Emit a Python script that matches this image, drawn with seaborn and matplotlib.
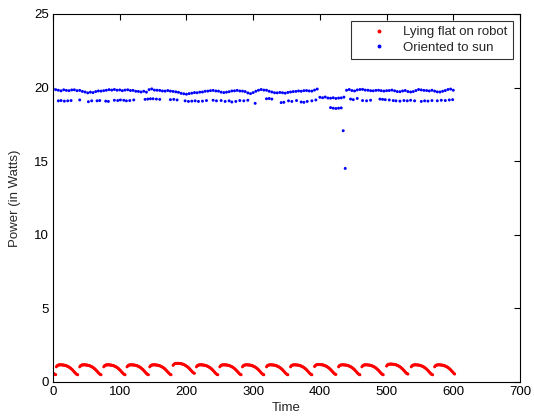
import numpy as np
import pandas as pd
import matplotlib
matplotlib.use("Agg")
import matplotlib.pyplot as plt
import seaborn as sns

# ---- Panel lying flat on the robot: daily-like arcs --------------------
flat_lead_times = [0, 1, 2, 3, 4]
flat_lead_values = [0.60, 0.57, 0.54, 0.51, 0.50]
flat_cycle_profile = [1.03, 1.09, 1.13, 1.15, 1.16, 1.16, 1.17, 1.17, 1.16, 1.16,
                      1.15, 1.15, 1.14, 1.13, 1.12, 1.10, 1.08, 1.06, 1.04, 1.01,
                      0.98, 0.95, 0.91, 0.87, 0.83, 0.78, 0.73, 0.68, 0.63, 0.58,
                      0.54, 0.51, 0.49]
flat_cycle_starts = [5, 40, 76, 111, 145, 180, 215, 250, 284, 320, 356, 392,
                     428, 463, 500, 537, 572]
flat_cycle_lift = [0.0, 0.0, 0.0, 0.0, 0.0, 0.10, 0.0, 0.0, 0.0, 0.0, 0.0, 0.02,
                   0.0, 0.0, 0.05, 0.0, 0.0]
flat_last_time = 602

# ---- Panel oriented to the sun ------------------------------------------
sun_upper_step = 4
sun_upper_values = [
    19.92, 19.86, 19.82, 19.78, 19.85, 19.81, 19.79, 19.84, 19.85, 19.79,
    19.81, 19.74, 19.70, 19.64, 19.69, 19.66, 19.73, 19.77, 19.76, 19.79,
    19.82, 19.86, 19.83, 19.87, 19.82, 19.84, 19.79, 19.83, 19.85, 19.80,
    19.81, 19.75, 19.74, 19.70, 19.75, 19.69, 19.86, 19.91, 19.83, 19.82,
    19.81, 19.77, 19.76, 19.80, 19.76, 19.74, 19.71, 19.68, 19.61, 19.58,
    19.55, 19.59, 19.62, 19.66, 19.65, 19.69, 19.70, 19.75, 19.76, 19.79,
    19.81, 19.77, 19.76, 19.69, 19.66, 19.69, 19.72, 19.77, 19.78, 19.81,
    19.77, 19.76, 19.73, 19.64, 19.59, 19.66, 19.75, 19.82, 19.87, 19.83,
    19.82, 19.75, 19.70, 19.65, 19.64, 19.67, 19.65, 19.62, 19.67, 19.70,
    19.73, 19.74, 19.77, 19.75, 19.79, 19.80, 19.77, 19.76, 19.83, 19.90,
    19.34, 19.31, 19.36, 19.29, 19.28, 19.31, 19.26, 19.29, 19.30, 19.35,
    19.82, 19.87, 19.80, 19.77, 19.84, 19.87, 19.88, 19.83, 19.82, 19.79,
    19.78, 19.81, 19.82, 19.79, 19.76, 19.79, 19.80, 19.83, 19.78, 19.73,
    19.72, 19.77, 19.80, 19.73, 19.70, 19.73, 19.80, 19.87, 19.84, 19.81,
    19.80, 19.77, 19.82, 19.76, 19.71, 19.70, 19.75, 19.80, 19.87, 19.90,
    19.82,
]
sun_lower_times = [
    8, 12, 17, 22, 27, 40, 53, 58, 66, 70, 79, 83, 92, 97, 101, 106, 110, 115,
    121, 138, 142, 146, 150, 155, 160, 176, 181, 186, 198, 203, 208, 213, 218,
    224, 230, 240, 245, 252, 258, 264, 268, 274, 280, 286, 292, 303, 320, 324,
    328, 342, 346, 353, 358, 365, 372, 376, 381, 388, 394, 416, 420, 424, 428,
    432, 435, 438, 446, 450, 456, 464, 470, 476, 490, 494, 498, 504, 510, 514,
    520, 526, 531, 536, 542, 552, 557, 562, 568, 576, 582, 588, 594, 599,
]
sun_lower_values = [
    19.10, 19.12, 19.08, 19.10, 19.12, 19.16, 19.04, 19.10, 19.10, 19.12, 19.08,
    19.06, 19.14, 19.12, 19.16, 19.14, 19.10, 19.12, 19.16, 19.20, 19.22, 19.24,
    19.24, 19.22, 19.20, 19.18, 19.20, 19.16, 19.10, 19.06, 19.08, 19.10, 19.06,
    19.08, 19.12, 19.14, 19.10, 19.12, 19.06, 19.10, 19.02, 19.06, 19.12, 19.10,
    19.14, 18.93, 19.24, 19.26, 19.22, 18.98, 19.00, 19.10, 19.06, 19.12, 19.02,
    19.00, 19.06, 19.10, 19.16, 18.64, 18.60, 18.58, 18.60, 18.62, 17.07, 14.51,
    19.22, 19.18, 19.26, 19.12, 19.10, 19.14, 19.22, 19.20, 19.18, 19.16, 19.12,
    19.10, 19.08, 19.12, 19.10, 19.14, 19.10, 19.06, 19.10, 19.08, 19.12, 19.10,
    19.14, 19.12, 19.16, 19.18,
]

series_names = ["Lying flat on robot", "Oriented to sun"]
series_colors = ["#ff0000", "#0000ff"]
x_ticks = [0, 100, 200, 300, 400, 500, 600, 700]
y_ticks = [0, 5, 10, 15, 20, 25]

# ---- assemble long-form table --------------------------------------------
flat_t = list(flat_lead_times)
flat_v = list(flat_lead_values)
next_starts = flat_cycle_starts[1:] + [flat_last_time + 1]
for start, lift, nxt in zip(flat_cycle_starts, flat_cycle_lift, next_starts):
    n = min(len(flat_cycle_profile), nxt - start)
    flat_t += [start + i for i in range(n)]
    flat_v += [p + lift for p in flat_cycle_profile[:n]]

sun_t = [i * sun_upper_step for i in range(len(sun_upper_values))] + sun_lower_times
sun_v = sun_upper_values + sun_lower_values

df = pd.DataFrame({
    "Time": flat_t + sun_t,
    "Power": flat_v + sun_v,
    "Series": [series_names[0]] * len(flat_t) + [series_names[1]] * len(sun_t),
})

# ---- draw ----------------------------------------------------------------
sns.set_style("white")
plt.rcParams["font.family"] = ["Liberation Sans", "DejaVu Sans"]
fs = 9.5

fig = plt.figure(figsize=(5.34, 4.2), dpi=100)
ax = fig.add_axes([0.0993, 0.0905, 0.8745, 0.8762])

sns.scatterplot(data=df, x="Time", y="Power", hue="Series",
                hue_order=series_names, palette=series_colors,
                s=4.5, linewidth=0, marker="o", ax=ax, legend=False)

ax.set_xlim(0, 700)
ax.set_ylim(0, 25)
ax.set_xticks(x_ticks)
ax.set_yticks(y_ticks)
ax.tick_params(direction="in", length=4, width=0.8, top=True, right=True,
               labelsize=fs, colors="black", pad=3)
for spine in ax.spines.values():
    spine.set_color("black")
    spine.set_linewidth(0.8)
ax.set_xlabel("Time", fontsize=fs, labelpad=3)
ax.set_ylabel("Power (in Watts)", fontsize=fs, labelpad=9)

handles = [plt.Line2D([], [], linestyle="none", marker="o", markersize=1.8,
                      markerfacecolor=c, markeredgecolor=c)
           for c in series_colors]
leg = ax.legend(handles, series_names, loc="upper right",
                bbox_to_anchor=(0.985, 0.981), borderaxespad=0,
                fontsize=fs, frameon=True, fancybox=False, edgecolor="black",
                handlelength=3.4, handletextpad=0.15,
                borderpad=0.4, labelspacing=0.25)
leg.get_frame().set_linewidth(0.8)

fig.savefig("out.png", dpi=100, facecolor="white")
